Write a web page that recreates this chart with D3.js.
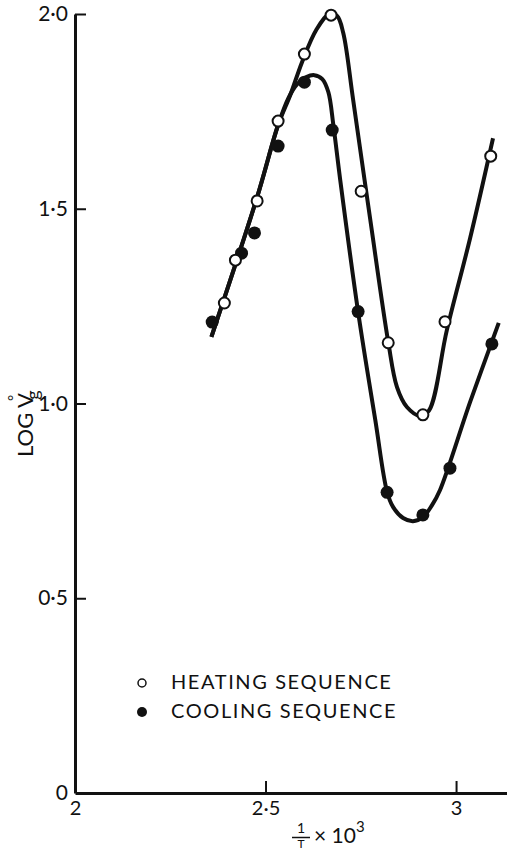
<!DOCTYPE html>
<html>
<head>
<meta charset="utf-8">
<script src="https://cdn.jsdelivr.net/npm/d3@7"></script>
<style>
  body { margin: 0; background: #fff; }
  text { font-family: "Lato", "DejaVu Sans", sans-serif; font-weight: 400; fill: #111; }
</style>
</head>
<body>
<script>
const width = 507;
const height = 851;

// tick values and their printed labels
const xTicks = [2, 2.5, 3];
const xTickLabels = ["2", "2·5", "3"];
const yTicks = [0, 0.5, 1, 1.5, 2];
const yTickLabels = ["0", "0·5", "1·0", "1·5", "2·0"];

// measured points, 1/T x 10^3 vs log Vg
const heatingX = [2.392, 2.421, 2.478, 2.533, 2.602, 2.672, 2.751, 2.822, 2.913, 2.971, 3.091];
const heatingY = [1.258, 1.368, 1.520, 1.725, 1.897, 1.997, 1.545, 1.156, 0.971, 1.210, 1.635];
const coolingX = [2.360, 2.437, 2.471, 2.533, 2.602, 2.675, 2.743, 2.819, 2.913, 2.984, 3.094];
const coolingY = [1.209, 1.386, 1.438, 1.661, 1.825, 1.702, 1.236, 0.772, 0.714, 0.834, 1.153];

// hand-drawn fitted curves
const heatingCurveX = [2.358, 2.478, 2.533, 2.565, 2.596, 2.633, 2.667, 2.688, 2.704, 2.730, 2.775, 2.822, 2.845, 2.871, 2.906, 2.929, 2.976, 3.037, 3.097];
const heatingCurveY = [1.171, 1.530, 1.715, 1.792, 1.877, 1.959, 2.000, 1.995, 1.951, 1.779, 1.471, 1.158, 1.042, 0.991, 0.968, 0.982, 1.189, 1.425, 1.681];
const coolingCurveX = [2.358, 2.478, 2.533, 2.560, 2.583, 2.607, 2.628, 2.649, 2.665, 2.678, 2.696, 2.743, 2.788, 2.819, 2.835, 2.861, 2.887, 2.913, 2.937, 2.958, 3.037, 3.112];
const coolingCurveY = [1.171, 1.530, 1.715, 1.784, 1.820, 1.838, 1.843, 1.833, 1.799, 1.715, 1.574, 1.235, 0.958, 0.773, 0.734, 0.706, 0.698, 0.708, 0.739, 0.778, 1.004, 1.207];

const svg = d3.select("body").append("svg").attr("width", width).attr("height", height);

const x = d3.scaleLinear().domain([2, 3.135]).range([75, 507.5]);
const y = d3.scaleLinear().domain([0, 2]).range([793, 14]);

// y axis, ticks pointing inward
const yAxis = svg.append("g")
  .attr("transform", `translate(${x(2)},0)`)
  .call(d3.axisLeft(y).tickValues(yTicks).tickFormat((d, i) => yTickLabels[i])
    .tickSizeInner(-11).tickSizeOuter(0).tickPadding(7));

// x axis, ticks pointing up
const xAxis = svg.append("g")
  .attr("transform", `translate(0,${y(0)})`)
  .call(d3.axisBottom(x).tickValues(xTicks).tickFormat((d, i) => xTickLabels[i])
    .tickSizeInner(-12).tickSizeOuter(0).tickPadding(8));

[xAxis, yAxis].forEach(a => {
  a.select(".domain").attr("stroke", "#111").attr("stroke-width", 3);
  a.selectAll(".tick line").attr("stroke", "#111").attr("stroke-width", 2);
  a.selectAll(".tick text").style("font-family", "Lato, 'DejaVu Sans', sans-serif")
    .attr("fill", "#111");
});
yAxis.selectAll(".tick text").style("font-size", "21px");
xAxis.selectAll(".tick text").style("font-size", "20px");
xAxis.selectAll(".tick").filter(d => d === 2).select("line").remove();
yAxis.selectAll(".tick").filter(d => d === 0).select("line").remove();

// curves
const line = d3.line()
  .x(d => x(d[0]))
  .y(d => y(d[1]))
  .curve(d3.curveCatmullRom.alpha(0.5));

svg.append("path")
  .datum(heatingCurveX.map((v, i) => [v, heatingCurveY[i]]))
  .attr("d", line)
  .attr("fill", "none").attr("stroke", "#111").attr("stroke-width", 4);

svg.append("path")
  .datum(coolingCurveX.map((v, i) => [v, coolingCurveY[i]]))
  .attr("d", line)
  .attr("fill", "none").attr("stroke", "#111").attr("stroke-width", 4);

// points
svg.append("g").selectAll("circle")
  .data(coolingX.map((v, i) => [v, coolingY[i]]))
  .join("circle")
  .attr("cx", d => x(d[0])).attr("cy", d => y(d[1])).attr("r", 6.5)
  .attr("fill", "#111");

svg.append("g").selectAll("circle")
  .data(heatingX.map((v, i) => [v, heatingY[i]]))
  .join("circle")
  .attr("cx", d => x(d[0])).attr("cy", d => y(d[1])).attr("r", 5.5)
  .attr("fill", "#fff").attr("stroke", "#111").attr("stroke-width", 2);

// legend
const legend = svg.append("g");
legend.append("circle").attr("cx", 142).attr("cy", 683).attr("r", 4)
  .attr("fill", "#fff").attr("stroke", "#111").attr("stroke-width", 1.5);
legend.append("circle").attr("cx", 142).attr("cy", 712).attr("r", 5).attr("fill", "#111");
legend.append("text").attr("x", 171).attr("y", 689).style("font-size", "20px")
  .style("letter-spacing", "1.6px").text("HEATING SEQUENCE");
legend.append("text").attr("x", 171).attr("y", 718).style("font-size", "20px")
  .style("letter-spacing", "1.6px").text("COOLING SEQUENCE");

// y title: LOG V°g
const yTitle = svg.append("text")
  .attr("transform", "translate(33,457) rotate(-90)")
  .style("font-size", "22px");
yTitle.append("tspan").text("LOG V");
yTitle.append("tspan").attr("dy", -14).attr("dx", -8).style("font-size", "15px").text("°");
yTitle.append("tspan").attr("dy", 20).attr("dx", -5).style("font-size", "18px").text("g");

// x title: 1/T × 10³
const xt = svg.append("g");
xt.append("text").attr("x", 301).attr("y", 833).attr("text-anchor", "middle")
  .style("font-size", "14px").text("1");
xt.append("line").attr("x1", 292).attr("x2", 310).attr("y1", 837.5).attr("y2", 837.5)
  .attr("stroke", "#111").attr("stroke-width", 1.5);
xt.append("text").attr("x", 301).attr("y", 848).attr("text-anchor", "middle")
  .style("font-size", "12px").text("T");
const xtText = xt.append("text").attr("x", 314).attr("y", 843).style("font-size", "21px");
xtText.append("tspan").text("× 10");
xtText.append("tspan").attr("dy", -11).style("font-size", "15px").text("3");
</script>
</body>
</html>
